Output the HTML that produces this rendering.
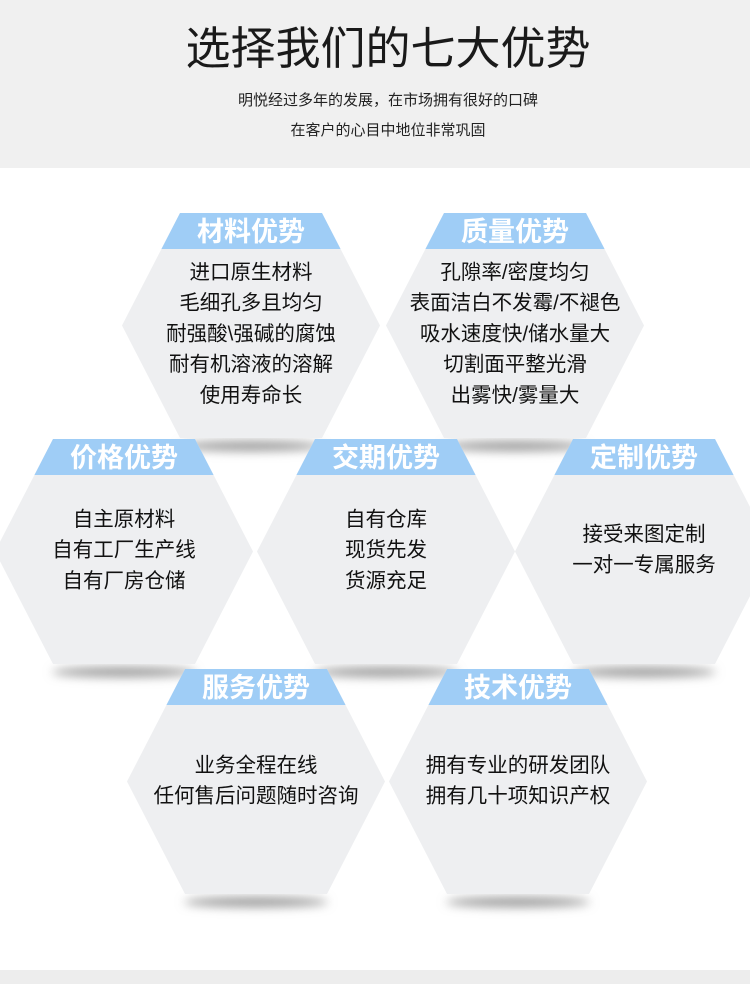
<!DOCTYPE html>
<html><head><meta charset="utf-8"><style>
body{margin:0;width:750px;height:984px;overflow:hidden;background:#fff;font-family:"Liberation Sans","Noto Sans CJK SC",sans-serif}
svg text{font-family:"Liberation Sans","Noto Sans CJK SC",sans-serif}
</style></head><body>
<svg width="750" height="984" viewBox="0 0 750 984" xmlns="http://www.w3.org/2000/svg">
<defs><filter id="b" x="-50%" y="-200%" width="200%" height="500%"><feGaussianBlur stdDeviation="5"/></filter></defs>
<rect x="0" y="0" width="750" height="168" fill="#f0f0f0"/>
<text x="388" y="64" font-size="45" text-anchor="middle" fill="#1a1a1a">选择我们的七大优势</text>
<text x="388" y="105" font-size="15" text-anchor="middle" fill="#222">明悦经过多年的发展，在市场拥有很好的口碑</text>
<text x="388" y="135" font-size="15" text-anchor="middle" fill="#222">在客户的心目中地位非常巩固</text>
<rect x="0" y="970" width="750" height="14" fill="#ededed"/>
<g id="hexes"></g>
</svg>
<script>
const H=[
 [122,213,'材料优势',['进口原生材料','毛细孔多且均匀','耐强酸\\强碱的腐蚀','耐有机溶液的溶解','使用寿命长'],272],
 [386,213,'质量优势',['孔隙率/密度均匀','表面洁白不发霉/不褪色','吸水速度快/储水量大','切割面平整光滑','出雾快/雾量大'],272],
 [-5,439,'价格优势',['自主原材料','自有工厂生产线','自有厂房仓储'],519],
 [257,439,'交期优势',['自有仓库','现货先发','货源充足'],519],
 [515,439,'定制优势',['接受来图定制','一对一专属服务'],534],
 [127,669,'服务优势',['业务全程在线','任何售后问题随时咨询'],765],
 [389,669,'技术优势',['拥有专业的研发团队','拥有几十项知识产权'],765]];
const W=258,Hh=225,I=58,BH=36;let s='';
H.forEach(([x,y,t,ls,ty])=>{
 const cx=x+W/2;
 s+=`<ellipse cx="${cx}" cy="${y+Hh+8}" rx="72" ry="5" fill="#9a9a9a" filter="url(#b)"/>`;
 s+=`<polygon points="${x+I},${y} ${x+W-I},${y} ${x+W},${y+Hh/2} ${x+W-I},${y+Hh} ${x+I},${y+Hh} ${x},${y+Hh/2}" fill="#eeeff1"/>`;
 const d=I*BH/(Hh/2);
 s+=`<polygon points="${x+I},${y} ${x+W-I},${y} ${x+W-I+d},${y+BH} ${x+I-d},${y+BH}" fill="#9fcdf6"/>`;
 s+=`<text x="${cx}" y="${y+28}" font-size="27" font-weight="bold" fill="#fff" text-anchor="middle">${t}</text>`;
 ls.forEach((l,i)=>{s+=`<text x="${cx}" y="${ty+7+i*30.7}" font-size="20.5" fill="#111" text-anchor="middle">${l}</text>`;});
});
document.getElementById('hexes').innerHTML=s;
</script>
</body></html>
